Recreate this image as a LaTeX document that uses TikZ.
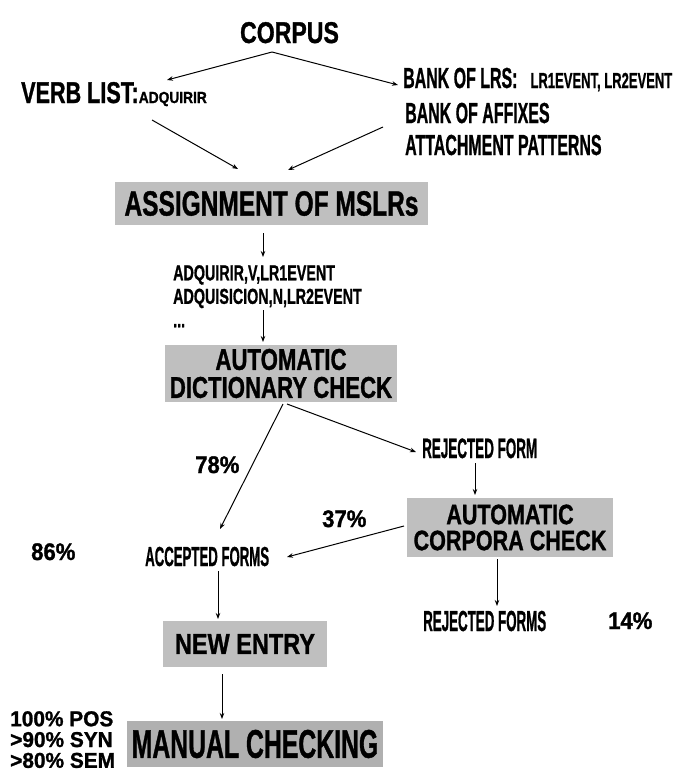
\documentclass[tikz,border=0pt]{standalone}
\usepackage{fontspec}
\setmainfont{Liberation Sans}[BoldFeatures={FakeBold=1.2}]
\usepackage{graphicx}
\usetikzlibrary{arrows.meta}
\newcommand{\hsc}[2]{\scalebox{#1}[1]{#2}}
\newcommand{\fs}[1]{\fontsize{#1}{#1}\selectfont}
\begin{document}
\begin{tikzpicture}[x=1pt,y=-1pt,
  lbl/.style={inner sep=0pt, font=\bfseries},
  box/.style={fill=gray!50, inner sep=0pt, font=\bfseries, align=center},
  pct/.style={inner sep=0pt, anchor=base west, font=\bfseries\fontsize{24}{24}\selectfont},
  arr/.style={-{Stealth[length=6pt,width=4.5pt]}, line width=1pt}]
\useasboundingbox (0,0) rectangle (675,779);

% text nodes
\node[lbl, anchor=base] (corpus) at (289.5,43) {\fs{30}\hsc{0.77}{CORPUS}};
\node[lbl, anchor=base west] (verb) at (21,103) {\fs{30}\hsc{0.72}{VERB LIST:}\fs{16}\hsc{0.86}{ADQUIRIR}};
\node[lbl, anchor=base west] (lrs) at (403,88) {\fs{29}\hsc{0.55}{BANK OF LRS:}\hspace{13pt}\fs{21.7}\hsc{0.6}{LR1EVENT, LR2EVENT}};
\node[lbl, anchor=base west] (affix) at (405,123) {\fs{29}\hsc{0.55}{BANK OF AFFIXES}};
\node[lbl, anchor=base west] (attach) at (405,155) {\fs{29}\hsc{0.55}{ATTACHMENT PATTERNS}};

\node[box, minimum width=313pt, minimum height=43pt] (assign) at (271.5,203.5) {\fs{35}\hsc{0.7}{ASSIGNMENT OF MSLRs}};

\node[lbl, anchor=north west, align=left, font=\bfseries\fontsize{21.7}{23.5}\selectfont] (list) at (173,265)
  {\hsc{0.66}{ADQUIRIR,V,LR1EVENT}\\\hsc{0.66}{ADQUISICION,N,LR2EVENT}\\\hsc{0.66}{...}};

\node[box, minimum width=232pt, minimum height=57pt, font=\bfseries\fontsize{30}{28}\selectfont] (dict) at (281,373.5)
  {\hsc{0.74}{AUTOMATIC}\\\hsc{0.74}{DICTIONARY CHECK}};

\node[lbl, anchor=base west] (rej1) at (422,458) {\fs{28}\hsc{0.48}{REJECTED FORM}};

\node[box, minimum width=206pt, minimum height=59pt, font=\bfseries\fontsize{28}{26}\selectfont] (corp) at (510,527.5)
  {\hsc{0.77}{AUTOMATIC}\\\hsc{0.77}{CORPORA CHECK}};

\node[lbl, anchor=base west] (acc) at (145,566) {\fs{27.5}\hsc{0.48}{ACCEPTED FORMS}};
\node[lbl, anchor=base west] (rej2) at (423,631) {\fs{29}\hsc{0.46}{REJECTED FORMS}};

\node[box, minimum width=164pt, minimum height=46pt] (new) at (245,644) {\fs{29}\hsc{0.81}{NEW ENTRY}};
\node[box, fill=gray!62, minimum width=256pt, minimum height=46pt] (manual) at (255,744) {\fs{40}\hsc{0.62}{MANUAL CHECKING}};

% percentages
\node[pct] (p78) at (195,473) {\hsc{0.92}{78\%}};
\node[pct] (p37) at (322,527) {\hsc{0.92}{37\%}};
\node[pct] (p86) at (31,560) {\hsc{0.92}{86\%}};
\node[pct] (p14) at (608,629) {\hsc{0.92}{14\%}};
\node[inner sep=0pt, anchor=north west, align=left, font=\bfseries\fontsize{21.5}{20.8}\selectfont] (stats) at (10,711)
  {\hsc{0.97}{100\% POS}\\\hsc{0.97}{>90\% SYN}\\\hsc{0.97}{>80\% SEM}};

% connector end points
\coordinate (apex) at (272,52);
\coordinate (verbIn) at (167,80);
\coordinate (lrsIn) at (398,85);
\coordinate (verbOut) at (152,120);
\coordinate (assignInL) at (238,169);
\coordinate (attachOut) at (383,127);
\coordinate (assignInR) at (288,170);
\coordinate (assignOut) at (263,233);
\coordinate (listIn) at (263,257);
\coordinate (listOut) at (263,310);
\coordinate (dictIn) at (263,342);
\coordinate (dictOutL) at (283,404);
\coordinate (accInT) at (220,529);
\coordinate (dictOutR) at (287,404);
\coordinate (rejIn) at (416,452);
\coordinate (rejOut) at (475,463);
\coordinate (corpIn) at (475,495);
\coordinate (corpOutL) at (404,526);
\coordinate (accInR) at (287,557);
\coordinate (accOut) at (218,571);
\coordinate (newIn) at (218,619);
\coordinate (newOut) at (222,674);
\coordinate (manIn) at (222,719);
\coordinate (corpOutB) at (497,559);
\coordinate (rej2In) at (497,606);

\draw[arr] (apex) -- (verbIn);
\draw[arr] (apex) -- (lrsIn);
\draw[arr] (verbOut) -- (assignInL);
\draw[arr] (attachOut) -- (assignInR);
\draw[arr] (assignOut) -- (listIn);
\draw[arr] (listOut) -- (dictIn);
\draw[arr] (dictOutL) -- (accInT);
\draw[arr] (dictOutR) -- (rejIn);
\draw[arr] (rejOut) -- (corpIn);
\draw[arr] (corpOutL) -- (accInR);
\draw[arr] (accOut) -- (newIn);
\draw[arr] (newOut) -- (manIn);
\draw[arr] (corpOutB) -- (rej2In);
\end{tikzpicture}
\end{document}
